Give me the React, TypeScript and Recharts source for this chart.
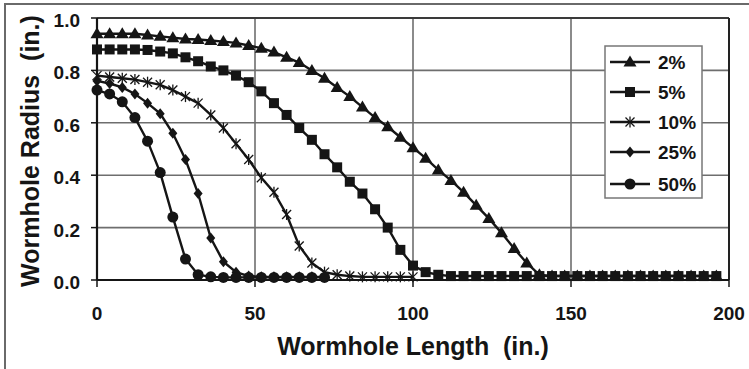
import React from 'react';
import { LineChart, Line, XAxis, YAxis, CartesianGrid, ReferenceLine, Label } from 'recharts';

// Wormhole length (in.) sample positions
const lengths = [0, 4, 8, 12, 16, 20, 24, 28, 32, 36, 40, 44, 48, 52, 56, 60, 64, 68, 72, 76, 80, 84, 88, 92, 96, 100, 104, 108, 112, 116, 120, 124, 128, 132, 136, 140, 144, 148, 152, 156, 160, 164, 168, 172, 176, 180, 184, 188, 192, 196];

// Wormhole radius (in.) per acid concentration
const r2 = [0.94, 0.94, 0.94, 0.94, 0.935, 0.93, 0.925, 0.92, 0.918, 0.914, 0.91, 0.905, 0.895, 0.885, 0.87, 0.85, 0.83, 0.8, 0.77, 0.735, 0.7, 0.66, 0.62, 0.585, 0.545, 0.505, 0.465, 0.42, 0.38, 0.335, 0.285, 0.235, 0.18, 0.12, 0.065, 0.02, 0.015, 0.015, 0.015, 0.015, 0.015, 0.015, 0.015, 0.015, 0.015, 0.015, 0.015, 0.015, 0.015, 0.015];
const r5 = [0.88, 0.88, 0.88, 0.88, 0.878, 0.872, 0.865, 0.85, 0.835, 0.815, 0.8, 0.78, 0.755, 0.72, 0.675, 0.63, 0.58, 0.535, 0.48, 0.43, 0.375, 0.33, 0.27, 0.2, 0.115, 0.055, 0.03, 0.02, 0.015, 0.015, 0.015, 0.015, 0.015, 0.015, 0.015, 0.015, 0.015, 0.015, 0.015, 0.015, 0.015, 0.015, 0.015, 0.015, 0.015, 0.015, 0.015, 0.015, 0.015, 0.015];
const r10 = [0.78, 0.775, 0.77, 0.765, 0.755, 0.745, 0.725, 0.7, 0.675, 0.63, 0.58, 0.52, 0.46, 0.39, 0.335, 0.25, 0.13, 0.065, 0.03, 0.02, 0.015, 0.012, 0.012, 0.012, 0.012, 0.012];
const r25 = [0.76, 0.75, 0.735, 0.71, 0.675, 0.635, 0.56, 0.46, 0.33, 0.16, 0.07, 0.03, 0.015, 0.012, 0.012, 0.012, 0.012, 0.012, 0.012];
const r50 = [0.725, 0.71, 0.68, 0.62, 0.53, 0.41, 0.24, 0.08, 0.02, 0.012, 0.01, 0.01, 0.01, 0.01, 0.01, 0.01, 0.01, 0.01, 0.01];

const seriesNames = ['2%', '5%', '10%', '25%', '50%'];
const seriesValues = [r2, r5, r10, r25, r50];
const seriesShapes = ['triangle', 'square', 'star', 'diamond', 'circle'];

const xTicks = [0, 50, 100, 150, 200];
const yTicks = [0, 0.2, 0.4, 0.6, 0.8, 1.0];

const FONT = '"Liberation Sans", Arial, Helvetica, sans-serif';
const INK = '#151515';

const buildSeries = (vals: number[]) => vals.map((y, i) => ({ x: lengths[i], y }));

function Marker({ shape, cx, cy }: { shape: string; cx: number; cy: number }) {
  switch (shape) {
    case 'triangle':
      return <polygon points={`${cx},${cy - 6.5} ${cx + 6.5},${cy + 4.5} ${cx - 6.5},${cy + 4.5}`} fill={INK} />;
    case 'square':
      return <rect x={cx - 5} y={cy - 5} width={10} height={10} fill={INK} />;
    case 'star':
      return (
        <g stroke={INK} strokeWidth={1.3}>
          <line x1={cx - 4.5} y1={cy - 4.5} x2={cx + 4.5} y2={cy + 4.5} />
          <line x1={cx - 4.5} y1={cy + 4.5} x2={cx + 4.5} y2={cy - 4.5} />
          <line x1={cx} y1={cy - 5.5} x2={cx} y2={cy + 5.5} />
        </g>
      );
    case 'diamond':
      return <polygon points={`${cx},${cy - 5.5} ${cx + 4.5},${cy} ${cx},${cy + 5.5} ${cx - 4.5},${cy}`} fill={INK} />;
    default:
      return <circle cx={cx} cy={cy} r={5.5} fill={INK} />;
  }
}

const YTick = (props: any) => (
  <text x={props.x} y={props.y} dy={9} textAnchor="end" fontFamily={FONT} fontWeight="bold" fontSize={19} fill={INK}>
    {Number(props.payload.value).toFixed(1)}
  </text>
);

const XTick = (props: any) => (
  <text x={props.x} y={props.y} dy={33} textAnchor="middle" fontFamily={FONT} fontWeight="bold" fontSize={19} fill={INK}>
    {props.payload.value}
  </text>
);

const XTitle = (props: any) => {
  const vb = props.viewBox || {};
  return (
    <text x={vb.x + vb.width / 2} y={355} textAnchor="middle" fontFamily={FONT} fontWeight="bold" fontSize={25} fill={INK} style={{ whiteSpace: 'pre' }}>
      {'Wormhole Length  (in.)'}
    </text>
  );
};

const YTitle = (props: any) => {
  const vb = props.viewBox || {};
  const cy = vb.y + vb.height / 2 + 2;
  return (
    <text x={39} y={cy} transform={`rotate(-90, 39, ${cy})`} textAnchor="middle" fontFamily={FONT} fontWeight="bold" fontSize={25} fill={INK} style={{ whiteSpace: 'pre' }}>
      {'Wormhole Radius  (in.)'}
    </text>
  );
};

function LegendBox() {
  const rowY = [17, 47, 77, 107, 139];
  return (
    <svg width={99} height={154} style={{ position: 'absolute', left: 604, top: 45 }}>
      <rect x={1} y={1} width={97} height={152} fill="#fff" stroke="#777" strokeWidth={1.5} />
      {seriesNames.map((name, i) => (
        <g key={name}>
          <line x1={6} y1={rowY[i]} x2={46} y2={rowY[i]} stroke={INK} strokeWidth={2.5} />
          <Marker shape={seriesShapes[i]} cx={26} cy={rowY[i]} />
          <text x={54} y={rowY[i]} dy={7} fontFamily={FONT} fontWeight="bold" fontSize={19} fill={INK}>
            {name}
          </text>
        </g>
      ))}
    </svg>
  );
}

export default function App() {
  return (
    <div style={{ position: 'absolute', left: 0, top: 0, width: 749, height: 369, background: '#fff', overflow: 'hidden' }}>
      <div style={{ position: 'absolute', left: 4, top: 3, width: 760, height: 380, borderTop: '2px solid #6a6a6a', borderLeft: '2px solid #6a6a6a' }} />
      <div style={{ position: 'absolute', left: 0, top: 0 }}>
        <LineChart width={749} height={369} margin={{ top: 18, right: 20, left: 37, bottom: 59 }}>
          <CartesianGrid stroke="#6e6e6e" strokeWidth={1.6} />
          <XAxis
            dataKey="x"
            type="number"
            domain={[0, 200]}
            ticks={xTicks}
            height={30}
            tickSize={7}
            tickMargin={0}
            tick={<XTick />}
            axisLine={{ stroke: INK, strokeWidth: 2.2 }}
            tickLine={{ stroke: INK, strokeWidth: 1.5 }}
            allowDuplicatedCategory={false}
          >
            <Label content={<XTitle />} />
          </XAxis>
          <YAxis
            type="number"
            domain={[0, 1]}
            ticks={yTicks}
            width={60}
            tickSize={6}
            tickMargin={11}
            tick={<YTick />}
            axisLine={{ stroke: INK, strokeWidth: 2.2 }}
            tickLine={{ stroke: INK, strokeWidth: 1.5 }}
          >
            <Label content={<YTitle />} />
          </YAxis>
          <ReferenceLine y={1} stroke="#3a3a3a" strokeWidth={2} />
          <ReferenceLine x={200} stroke="#222" strokeWidth={2} />
          {seriesNames.map((name, i) => (
            <Line
              key={name}
              name={name}
              data={buildSeries(seriesValues[i])}
              dataKey="y"
              stroke={INK}
              strokeWidth={2.4}
              isAnimationActive={false}
              dot={(p: any) =>
                p.cx == null || p.cy == null ? <g key={`${name}-${p.index}`} /> : (
                  <g key={`${name}-${p.index}`}>
                    <Marker shape={seriesShapes[i]} cx={p.cx} cy={p.cy} />
                  </g>
                )
              }
              activeDot={false}
            />
          ))}
        </LineChart>
      </div>
      <LegendBox />
    </div>
  );
}
